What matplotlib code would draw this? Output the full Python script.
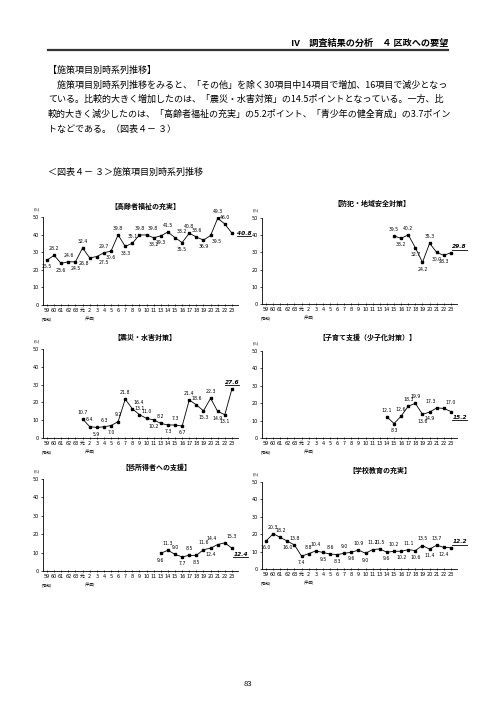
import numpy as np
import matplotlib
matplotlib.use("Agg")
import matplotlib.pyplot as plt
from matplotlib.lines import Line2D
from matplotlib import font_manager

plt.rcParams['font.family'] = ['Noto Sans CJK JP', 'DejaVu Sans']
names = {f.name for f in font_manager.fontManager.ttflist}
NARROW = ['Liberation Sans Narrow'] if 'Liberation Sans Narrow' in names else ['DejaVu Sans']

years = ['59', '60', '61', '62', '63', '元', '2', '3', '4', '5', '6', '7', '8', '9',
         '10', '11', '13', '14', '15', '16', '17', '18', '19', '20', '21', '22', '23']
N = None

title1 = '【高齢者福祉の充実】'
vals1 = [25.5, 28.2, 23.6, 24.6, 24.5, 32.4, 26.8, 27.5, 29.7, 30.6, 39.8, 33.3, 35.1, 39.8,
         39.8, 38.2, 39.3, 41.5, 38.2, 35.5, 40.8, 38.6, 36.9, 39.5, 49.3, 46.0, 40.8]
title2 = '【防犯・地域安全対策】'
vals2 = [N] * 18 + [39.5, 38.2, 40.2, 32.7, 24.2, 35.3, 30.0, 28.3, 29.8]
title3 = '【震災・水害対策】'
vals3 = [N] * 5 + [10.7, 6.4, 5.9, 6.3, 7.0, 9.2, 21.8, 16.4, 13.1, 11.0, 10.2, 8.2, 7.3, 7.3,
                   6.7, 21.4, 18.6, 15.3, 22.3, 14.9, 13.1, 27.6]
title4 = '【子育て支援（少子化対策）】'
vals4 = [N] * 17 + [12.1, 8.3, 12.6, 18.3, 19.9, 13.6, 14.9, 17.3, 17.0, 15.2]
title5 = '【低所得者への支援】'
vals5 = [N] * 16 + [9.6, 11.3, 9.0, 7.7, 8.5, 8.5, 11.6, 12.4, 14.4, 15.3, 12.4]
title6 = '【学校教育の充実】'
vals6 = [16.0, 20.3, 18.2, 16.0, 13.8, 7.4, 8.8, 10.4, 9.5, 8.6, 8.3, 9.0, 9.6, 10.9,
         9.0, 11.2, 11.5, 9.6, 10.2, 10.2, 11.1, 10.6, 13.5, 11.4, 13.7, 12.4, 12.2]

# label placement (style): a above, b below, r right, R below-right, U above-right,
# L above-left, l below-left, - none
place1 = 'b a b a b a l R a b a b a a U b b a U b a a b R a a r'.split()
place2 = ('- ' * 18 + 'a b a b b a b b U').split()
place3 = ('- ' * 5 + 'a a b a b a a U a a b a b a b a a b a b b a').split()
place4 = ('- ' * 17 + 'a b a a a b b L U R').split()
place5 = ('- ' * 16 + 'b a a b a b a b L U R').split()
place6 = 'b a a b a b a a b a b a b a b a a b a b a b a b a b U'.split()

W, H = 496, 702
fig = plt.figure(figsize=(W / 100, H / 100), dpi=100)
fig.patch.set_facecolor('white')


def ftext(x, y, s, **kw):
    return fig.text(x / W, 1 - y / H, s, **kw)


# page header
ftext(448, 43, 'Ⅳ　調査結果の分析　４ 区政への要望', ha='right', va='center',
      fontsize=6.6, fontweight='bold')
fig.add_artist(Line2D([48 / W, 448 / W], [1 - 50 / H, 1 - 50 / H], color='#333333', lw=1.6))

body = ['【施策項目別時系列推移】',
        '　施策項目別時系列推移をみると、「その他」を除く30項目中14項目で増加、16項目で減少となっ',
        'ている。比較的大きく増加したのは、「震災・水害対策」の14.5ポイントとなっている。一方、比',
        '較的大きく減少したのは、「高齢者福祉の充実」の5.2ポイント、「青少年の健全育成」の3.7ポイン',
        'トなどである。（図表４－ ３）']
for i, line in enumerate(body):
    ftext(48, 70 + i * 14.8, line, ha='left', va='center', fontsize=6.5)
ftext(48, 172, '＜図表４－ ３＞施策項目別時系列推移', ha='left', va='center', fontsize=6.5)
ftext(248, 684, '83', ha='center', va='center', fontsize=5.5)

offsets = {'a': (0, 3.0, 'center', 'bottom'), 'b': (0, -3.0, 'center', 'top'),
           'r': (3.5, 0, 'left', 'center'), 'R': (1.0, -2.5, 'left', 'top'),
           'U': (1.0, 2.5, 'left', 'bottom'), 'L': (-0.5, 2.5, 'right', 'bottom'),
           'l': (-0.5, -2.5, 'right', 'top')}

bold_texts = []


def chart(left, top, bottom, title, tx, ty, values, places):
    ax = fig.add_axes([left / W, 1 - bottom / H, 195 / W, (bottom - top) / H])
    x = np.arange(len(years))
    v = np.array([np.nan if a is None else a for a in values], dtype=float)
    ax.plot(x, v, '-', color='black', lw=0.6, marker='s', ms=1.7, mec='black', mfc='black')
    last = max(i for i, a in enumerate(values) if a is not None)
    for i, a in enumerate(values):
        if a is None:
            continue
        dx, dy, ha, va = offsets[places[i]]
        if i == last:
            t = ax.annotate(f'{a:.1f}', (i, a), xytext=(dx, dy), textcoords='offset points',
                            ha=ha, va=va, fontsize=4.2, fontweight='bold', style='italic',
                            family=NARROW)
            bold_texts.append(t)
        else:
            ax.annotate(f'{a:.1f}', (i, a), xytext=(dx, dy), textcoords='offset points',
                        ha=ha, va=va, fontsize=3.3, family=NARROW)
    ax.set_xlim(-0.56, 26.85)
    ax.set_ylim(0, 50)
    ax.set_yticks([0, 10, 20, 30, 40, 50])
    ax.set_xticks(x)
    ax.set_xticklabels(years)
    ax.tick_params(axis='y', labelsize=3.5, length=1.5, width=0.5, pad=1.5)
    ax.tick_params(axis='x', labelsize=3.5, length=1.5, width=0.5, pad=1.5, direction='inout')
    for lab in ax.get_xticklabels() + ax.get_yticklabels():
        if lab.get_text() != '元':
            lab.set_family(NARROW)
    for s in ['top', 'right']:
        ax.spines[s].set_visible(False)
    for s in ['left', 'bottom']:
        ax.spines[s].set_linewidth(0.6)
    ax.set_facecolor('none')
    ftext(left - 6, top - 8, '(%)', fontsize=2.8, ha='center', va='center')
    ftext(left + 4, bottom + 14, '(昭和)', ha='center', va='center', fontsize=2.8)
    ftext(left + 4 + 6 * 7.1, bottom + 14, '(平成)', ha='center', va='center', fontsize=2.8)
    ftext(tx, ty, title, ha='center', va='center', fontsize=5.0, fontweight='bold')
    return ax


charts = [
    (43, 217, 305, title1, 145, 206, vals1, place1),
    (262, 218, 304, title2, 372, 203, vals2, place2),
    (43, 349, 438, title3, 145, 337, vals3, place3),
    (262, 351, 438, title4, 367, 337, vals4, place4),
    (43, 479, 571, title5, 156, 467, vals5, place5),
    (262, 482, 569, title6, 380, 470, vals6, place6),
]
for c in charts:
    chart(*c)

# underline the latest-year values
fig.canvas.draw()
r = fig.canvas.get_renderer()
for t in bold_texts:
    bb = t.get_window_extent(r)
    y = bb.y0 - 0.3
    fig.add_artist(Line2D([bb.x0 / W, bb.x1 / W], [y / H, y / H],
                          color='black', lw=0.6, transform=fig.transFigure))

fig.savefig('out.png', dpi=100, facecolor='white')
